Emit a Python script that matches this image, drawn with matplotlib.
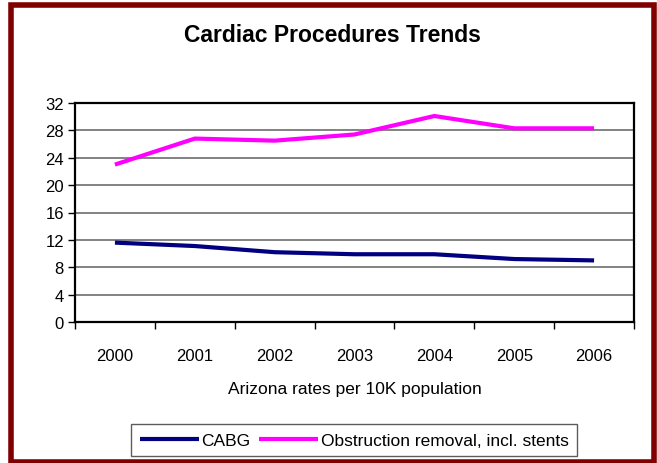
import matplotlib
matplotlib.use("Agg")
import matplotlib.pyplot as plt
from matplotlib.patches import Rectangle
import numpy as np

years = ["2000", "2001", "2002", "2003", "2004", "2005", "2006"]
cabg = [11.6, 11.1, 10.2, 9.9, 9.9, 9.2, 9.0]
obstruction = [23.0, 26.8, 26.5, 27.4, 30.1, 28.3, 28.3]
yticks = [0, 4, 8, 12, 16, 20, 24, 28, 32]

plt.rcParams['font.family'] = ['Liberation Sans', 'DejaVu Sans']

fig = plt.figure(figsize=(6.57, 4.64), dpi=100)
W, H = 657, 464
ax = fig.add_axes([75 / W, 1 - 323 / H, (634 - 75) / W, (323 - 104) / H])

x = np.arange(len(years))
ax.plot(x, cabg, color='#000080', lw=3.0, label='CABG', solid_capstyle='butt')
ax.plot(x, obstruction, color='#FF00FF', lw=3.0, label='Obstruction removal, incl. stents',
        solid_capstyle='butt')

ax.set_xlim(-0.5, len(years) - 0.5)
ax.set_ylim(0, 32)
ax.set_yticks(yticks)
ax.set_yticklabels([str(v) for v in yticks], fontsize=12)
ax.set_xticks(x)
ax.set_xticklabels(years, fontsize=12)
ax.set_xticks(np.arange(-0.5, len(years)), minor=True)
ax.tick_params(axis='x', which='major', length=0, pad=19)
ax.tick_params(axis='x', which='minor', length=5, width=1, color='black', direction='out')
ax.tick_params(axis='y', length=5, width=1, direction='out', pad=3)
ax.yaxis.grid(True, color='#606060', lw=1.1)
ax.set_axisbelow(True)
for s in ax.spines.values():
    s.set_color('black')
    s.set_linewidth(1.6)

ax.set_xlabel('Arizona rates per 10K population', fontsize=12.5, labelpad=13)

fig.text(332 / W, 1 - 35 / H, 'Cardiac Procedures Trends', ha='center', va='center',
         fontsize=16.5, fontweight='bold')

leg = fig.legend(loc='center', bbox_to_anchor=(354 / W, 1 - 441 / H), ncol=2,
                 frameon=True, fancybox=False, fontsize=12.5, handlelength=3.4,
                 handletextpad=0.15, columnspacing=0.5, borderpad=0.5,
                 borderaxespad=0, handleheight=0.7)
leg.get_frame().set_edgecolor('#333333')
leg.get_frame().set_linewidth(1)

fig.patches.append(Rectangle((11 / W, 0.002), (654 - 11) / W, 1 - 6 / H - 0.002,
                             transform=fig.transFigure, fill=False,
                             edgecolor='#800000', lw=4, zorder=10))

fig.savefig('out.png', dpi=100)
